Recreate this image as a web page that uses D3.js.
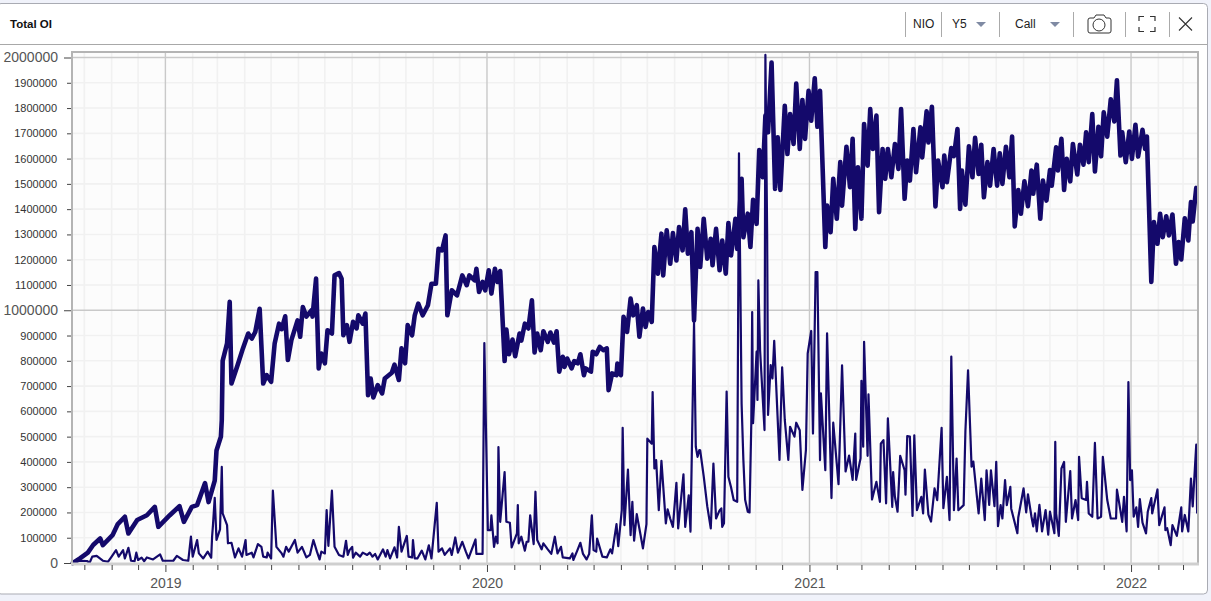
<!DOCTYPE html>
<html><head><meta charset="utf-8">
<script src="https://cdn.jsdelivr.net/npm/d3@7/dist/d3.min.js"></script>
<style>html,body{margin:0;padding:0;background:#f0f2fa;overflow:hidden}svg{display:block;font-family:"Liberation Sans",Arial,sans-serif}</style>
</head><body><svg id="c" width="1211" height="601"></svg>
<script>
const chartTitle = "Total OI";
const controls = ["NIO","Y5","Call"];
const startDate = new Date(2018,8,17), endDate = new Date(2022,2,18);
const yTicks = d3.range(0,2000001,100000);
const majorY = [0,1000000,2000000];
const yearLabels = [2019,2020,2021,2022];
// [days since startDate, open interest in thousands]
const totalSeries = [[1,0],[9,18],[18,41],[24,71],[32,97],[35,71],[46,110],[52,154],[60,183],[64,117],[74,170],[85,189],[94,222],[98,143],[111,189],[122,225],[127,163],[136,222],[142,229],[151,316],[155,241],[162,326],[164,445],[169,500],[170,565],[171,800],[176,869],[179,1033],[181,710],[188,783],[194,849],[200,908],[204,888],[208,914],[213,1006],[217,710],[221,743],[226,717],[230,868],[235,947],[238,925],[242,976],[245,803],[249,882],[256,960],[259,895],[262,1013],[266,975],[272,1000],[273,975],[277,1125],[280,770],[283,829],[287,790],[290,921],[295,908],[298,1138],[303,1147],[306,1125],[308,901],[312,941],[315,875],[319,954],[323,928],[325,980],[330,947],[333,987],[336,664],[339,730],[342,655],[347,704],[352,671],[355,730],[363,753],[366,785],[371,724],[374,849],[378,790],[381,941],[386,901],[389,980],[393,1026],[398,980],[404,1020],[408,1105],[413,1105],[416,1243],[420,1237],[424,1296],[426,980],[431,1079],[437,1059],[443,1138],[448,1099],[451,1138],[457,1118],[459,1164],[462,1072],[466,1112],[469,1079],[473,1158],[476,1066],[480,1164],[483,1112],[486,1155],[491,799],[493,924],[496,826],[500,884],[503,818],[508,908],[510,880],[514,947],[518,928],[522,1039],[525,833],[528,908],[532,842],[535,917],[540,875],[543,912],[547,872],[550,917],[553,757],[557,816],[559,776],[562,809],[567,770],[570,799],[574,790],[577,826],[581,743],[583,770],[589,757],[591,836],[595,826],[599,855],[603,842],[607,849],[609,684],[613,750],[618,743],[619,789],[623,743],[626,974],[630,914],[634,1046],[637,980],[641,1020],[644,895],[648,1007],[651,934],[654,993],[658,954],[661,1250],[665,1145],[669,1303],[671,1138],[675,1316],[679,1184],[682,1305],[686,1197],[689,1329],[693,1237],[696,1399],[699,1224],[703,1309],[706,960],[710,1322],[713,1171],[717,1362],[721,1204],[725,1283],[727,1178],[731,1322],[735,1158],[738,1276],[742,1145],[745,1345],[748,1217],[753,1362],[755,1243],[760,1520],[762,1289],[767,1382],[770,1250],[773,1437],[777,1342],[780,1634],[784,1526],[787,1770],[790,1704],[794,1980],[798,1480],[801,1684],[804,1476],[809,1809],[812,1618],[815,1776],[819,1658],[822,1897],[826,1638],[829,1832],[832,1678],[836,1868],[839,1750],[843,1918],[846,1726],[849,1868],[855,1250],[857,1414],[861,1309],[864,1520],[868,1362],[872,1586],[874,1414],[879,1647],[883,1487],[886,1678],[889,1322],[892,1566],[896,1362],[899,1737],[903,1572],[906,1796],[909,1638],[913,1770],[916,1388],[920,1638],[923,1520],[926,1638],[930,1526],[934,1658],[938,1559],[941,1796],[945,1441],[948,1592],[951,1513],[955,1717],[958,1546],[963,1724],[965,1605],[970,1787],[972,1664],[976,1805],[980,1411],[983,1592],[988,1487],[990,1612],[993,1507],[998,1642],[1001,1610],[1005,1717],[1008,1401],[1010,1553],[1014,1418],[1018,1649],[1022,1526],[1025,1682],[1029,1539],[1032,1655],[1035,1447],[1039,1586],[1042,1493],[1046,1638],[1050,1493],[1053,1621],[1056,1500],[1060,1647],[1064,1526],[1067,1687],[1070,1332],[1074,1476],[1077,1382],[1081,1510],[1085,1412],[1089,1553],[1091,1461],[1095,1576],[1099,1362],[1102,1513],[1106,1434],[1110,1555],[1112,1493],[1117,1645],[1119,1553],[1123,1678],[1126,1476],[1129,1599],[1133,1510],[1136,1658],[1141,1537],[1144,1655],[1148,1576],[1151,1704],[1154,1586],[1158,1776],[1161,1549],[1165,1726],[1168,1609],[1171,1783],[1175,1687],[1179,1835],[1183,1747],[1186,1910],[1190,1612],[1192,1704],[1196,1586],[1200,1707],[1203,1599],[1207,1734],[1210,1608],[1215,1714],[1218,1638],[1220,1687],[1225,1112],[1228,1349],[1232,1263],[1235,1382],[1238,1289],[1242,1372],[1245,1296],[1249,1379],[1253,1184],[1256,1270],[1259,1201],[1263,1364],[1267,1276],[1270,1428],[1272,1351],[1276,1484]];
const dailySeries = [[1,0],[9,9],[17,8],[20,1],[23,25],[28,28],[35,9],[41,5],[45,25],[50,51],[53,25],[58,51],[60,18],[64,60],[67,9],[71,7],[73,41],[75,12],[79,21],[82,7],[85,22],[92,14],[100,34],[103,9],[115,9],[119,28],[126,12],[132,9],[135,104],[137,25],[142,91],[144,38],[149,18],[154,45],[158,21],[159,104],[160,150],[162,258],[164,91],[168,133],[170,380],[171,196],[176,150],[177,78],[181,80],[185,22],[189,58],[193,25],[197,91],[198,32],[204,41],[206,22],[211,75],[215,64],[217,25],[221,22],[222,41],[226,18],[228,286],[232,64],[238,38],[240,25],[243,64],[246,45],[253,91],[256,41],[261,64],[266,22],[270,32],[274,91],[278,45],[281,14],[283,45],[287,38],[289,209],[291,68],[295,286],[298,64],[303,32],[308,25],[311,88],[313,32],[315,51],[318,64],[319,21],[322,41],[327,25],[330,41],[335,32],[338,41],[341,25],[344,36],[347,14],[353,54],[356,25],[358,51],[361,18],[366,62],[369,22],[371,143],[374,45],[380,107],[382,25],[386,22],[387,91],[389,18],[392,18],[397,49],[401,14],[405,70],[408,18],[414,238],[416,45],[420,58],[423,32],[429,58],[431,32],[435,101],[438,41],[443,84],[447,45],[450,18],[458,93],[459,36],[466,36],[468,870],[472,130],[475,130],[476,189],[479,64],[481,104],[483,78],[484,459],[486,163],[491,360],[493,163],[497,159],[499,62],[505,117],[506,229],[507,78],[510,104],[514,49],[516,84],[518,84],[520,189],[524,75],[526,282],[528,91],[533,54],[535,78],[540,54],[544,36],[548,104],[551,38],[555,64],[557,22],[565,18],[568,38],[569,12],[573,45],[577,80],[580,36],[584,14],[587,36],[590,189],[592,51],[595,45],[596,97],[602,25],[607,22],[611,54],[613,38],[618,154],[620,67],[624,209],[625,535],[627,150],[631,370],[634,110],[636,242],[638,88],[641,193],[645,117],[648,58],[652,154],[653,492],[658,472],[659,676],[661,374],[663,407],[666,209],[669,404],[674,157],[676,212],[679,175],[682,143],[686,317],[688,137],[694,351],[696,143],[700,268],[702,124],[706,950],[708,460],[710,420],[712,447],[713,446],[717,343],[721,225],[725,137],[728,393],[731,176],[735,208],[737,216],[738,143],[740,157],[743,678],[745,341],[748,300],[751,249],[755,242],[757,1621],[760,630],[762,408],[764,250],[767,203],[769,200],[771,553],[772,993],[773,553],[777,836],[778,645],[779,1118],[781,840],[786,526],[787,2010],[789,1300],[790,586],[793,783],[795,730],[797,879],[803,408],[806,774],[809,566],[813,408],[815,539],[820,500],[822,555],[826,525],[829,289],[833,447],[835,829],[839,918],[841,512],[844,1151],[846,1151],[849,407],[850,671],[855,367],[857,909],[862,257],[864,555],[868,393],[870,312],[874,782],[878,362],[882,425],[886,329],[889,512],[890,329],[895,414],[896,721],[898,460],[899,875],[903,424],[904,667],[908,251],[913,321],[917,242],[918,472],[921,486],[924,236],[926,572],[931,222],[932,360],[934,262],[937,203],[940,424],[945,367],[946,270],[948,502],[951,500],[954,186],[956,505],[959,209],[964,262],[966,196],[968,370],[972,191],[975,164],[979,295],[982,249],[987,535],[989,217],[993,341],[996,170],[998,817],[1001,209],[1004,413],[1006,209],[1012,229],[1014,520],[1017,762],[1021,381],[1023,401],[1029,196],[1032,334],[1036,170],[1038,367],[1041,230],[1043,367],[1047,225],[1049,400],[1051,146],[1054,229],[1056,176],[1059,328],[1061,229],[1065,301],[1066,215],[1073,118],[1074,180],[1080,295],[1083,200],[1085,272],[1089,183],[1091,145],[1093,196],[1095,125],[1098,230],[1101,125],[1105,209],[1108,112],[1110,203],[1115,118],[1116,479],[1117,196],[1120,107],[1123,374],[1126,400],[1128,163],[1133,364],[1135,176],[1139,249],[1142,170],[1143,420],[1146,256],[1151,249],[1152,321],[1154,196],[1158,183],[1161,475],[1164,176],[1168,183],[1170,420],[1175,249],[1179,176],[1185,176],[1186,290],[1188,249],[1192,163],[1194,262],[1197,125],[1199,716],[1201,328],[1203,367],[1205,183],[1208,220],[1210,143],[1212,253],[1215,160],[1219,117],[1221,203],[1225,257],[1226,196],[1232,291],[1234,150],[1240,220],[1241,130],[1243,138],[1247,71],[1249,150],[1254,107],[1259,220],[1260,125],[1263,190],[1267,125],[1270,334],[1272,224],[1276,468],[1277,196]];

const ink = "#14096b";
const svg = d3.select("#c");
const box = {l:72, r:1198, t:53, b:563};
const x = d3.scaleTime().domain([startDate,endDate]).range([box.l,box.r]);
const y = d3.scaleLinear().domain([0,2000000]).range([box.b,57.5]);
const months = d3.timeMonth.range(d3.timeMonth.ceil(startDate),endDate);
const years = yearLabels.map(v=>new Date(v,0,1));
const isYear = d => d.getMonth()===0;

// card + header
svg.append("rect").attr("x",-3).attr("y",3.5).attr("width",1210.5).attr("height",590.5).attr("rx",4)
  .attr("fill","#fff").attr("stroke","#a9abb3");
svg.append("line").attr("x1",0).attr("x2",1207).attr("y1",44.5).attr("y2",44.5).attr("stroke","#a8a8a8");
svg.append("text").attr("x",10).attr("y",27.5).attr("font-size",11.5).attr("font-weight",700).attr("fill","#111").text(chartTitle);
[905,941,999,1073,1125,1169].forEach(px=>svg.append("line").attr("x1",px+.5).attr("x2",px+.5).attr("y1",12).attr("y2",37).attr("stroke","#aaa"));
const ctlX=[913,952,1015];
controls.forEach((t,i)=>svg.append("text").attr("x",ctlX[i]).attr("y",28).attr("font-size",12).attr("fill","#222").text(t));
[976,1050].forEach(px=>svg.append("path").attr("d",`M${px} 22h10l-5 5z`).attr("fill","#7f8aa3"));
const icons=svg.append("g").attr("fill","none").attr("stroke","#333");
icons.append("path").attr("d","M1088 20a2 2 0 0 1 2-2h4l2-3h8l2 3h3a2 2 0 0 1 2 2v11a2 2 0 0 1-2 2h-19a2 2 0 0 1-2-2z");
icons.append("circle").attr("cx",1099).attr("cy",25).attr("r",6);
icons.append("path").attr("d","M1139 21v-4.5h5M1150 16.500h5v4.500M1155 27v4.500h-5M1144 31.500h-5v-4.500").attr("stroke-width",1.2);
icons.append("path").attr("d","M1179 17.500l13 13M1192 17.500l-13 13").attr("stroke-width",1.1);

// plot
svg.append("rect").attr("x",box.l).attr("y",box.t).attr("width",box.r-box.l).attr("height",box.b-box.t).attr("fill","#fcfcfc");
const grid=svg.append("g").attr("fill","none");
months.filter(d=>!isYear(d)).forEach(d=>grid.append("line").attr("x1",x(d)).attr("x2",x(d)).attr("y1",box.t).attr("y2",box.b).attr("stroke","#f1f1f1").attr("stroke-width",1.6));
yTicks.filter(v=>!majorY.includes(v)).forEach(v=>grid.append("line").attr("x1",box.l).attr("x2",box.r).attr("y1",y(v)).attr("y2",y(v)).attr("stroke","#f1f1f1").attr("stroke-width",1.6));
years.forEach(d=>grid.append("line").attr("x1",x(d)).attr("x2",x(d)).attr("y1",box.t).attr("y2",box.b).attr("stroke","#c9c9c9").attr("stroke-width",1.4));
majorY.filter(v=>v>0).forEach(v=>grid.append("line").attr("x1",box.l).attr("x2",box.r).attr("y1",y(v)).attr("y2",y(v)).attr("stroke","#c9c9c9").attr("stroke-width",1.4));

// series
const line=d3.line().x(d=>x(d3.timeDay.offset(startDate,d[0]))).y(d=>Math.max(y(d[1]*1000),box.t)).curve(d3.curveLinear);
svg.append("path").datum(dailySeries).attr("d",line).attr("fill","none").attr("stroke",ink).attr("stroke-width",2.2).attr("stroke-linejoin","round");
svg.append("path").datum(totalSeries).attr("d",line).attr("fill","none").attr("stroke",ink).attr("stroke-width",4.6).attr("stroke-linejoin","round").attr("stroke-linecap","round");

// frame
const fr=svg.append("g").attr("stroke","#b4b4b4").attr("fill","none");
fr.append("path").attr("d",`M${box.l} ${box.b}V${box.t-1}H${box.r}V${box.b}`).attr("stroke-width",2);
fr.append("path").attr("d",`M${box.l-1} ${box.b+1}H${box.r+1}`).attr("stroke-width",3).attr("stroke","#cfcfcf");

// axes
const yAxis=svg.append("g").attr("transform",`translate(${box.l-1},0)`)
  .call(d3.axisLeft(y).tickValues(yTicks).tickFormat(d3.format("d")).tickSize(4).tickPadding(10));
yAxis.select(".domain").remove();
yAxis.selectAll(".tick line").attr("stroke","#444").attr("x2",d=>majorY.includes(d)?-7:-4);
yAxis.selectAll(".tick text").attr("fill",d=>majorY.includes(d)?"#555":"#333")
  .attr("font-family","Liberation Sans, Arial, sans-serif")
  .attr("font-size",d=>majorY.includes(d)?14:11).attr("x",d=>majorY.includes(d)?-13:-14);
const xAxis=svg.append("g").attr("transform",`translate(0,${box.b+2})`)
  .call(d3.axisBottom(x).tickValues(months).tickFormat(d=>isYear(d)?d.getFullYear():"").tickSize(5).tickPadding(8));
xAxis.select(".domain").remove();
xAxis.selectAll(".tick line").attr("stroke","#444").attr("y2",d=>isYear(d)?7:5);
xAxis.selectAll(".tick text").attr("fill","#555").attr("font-size",14).attr("font-family","Liberation Sans, Arial, sans-serif").attr("y",13);
</script></body></html>
